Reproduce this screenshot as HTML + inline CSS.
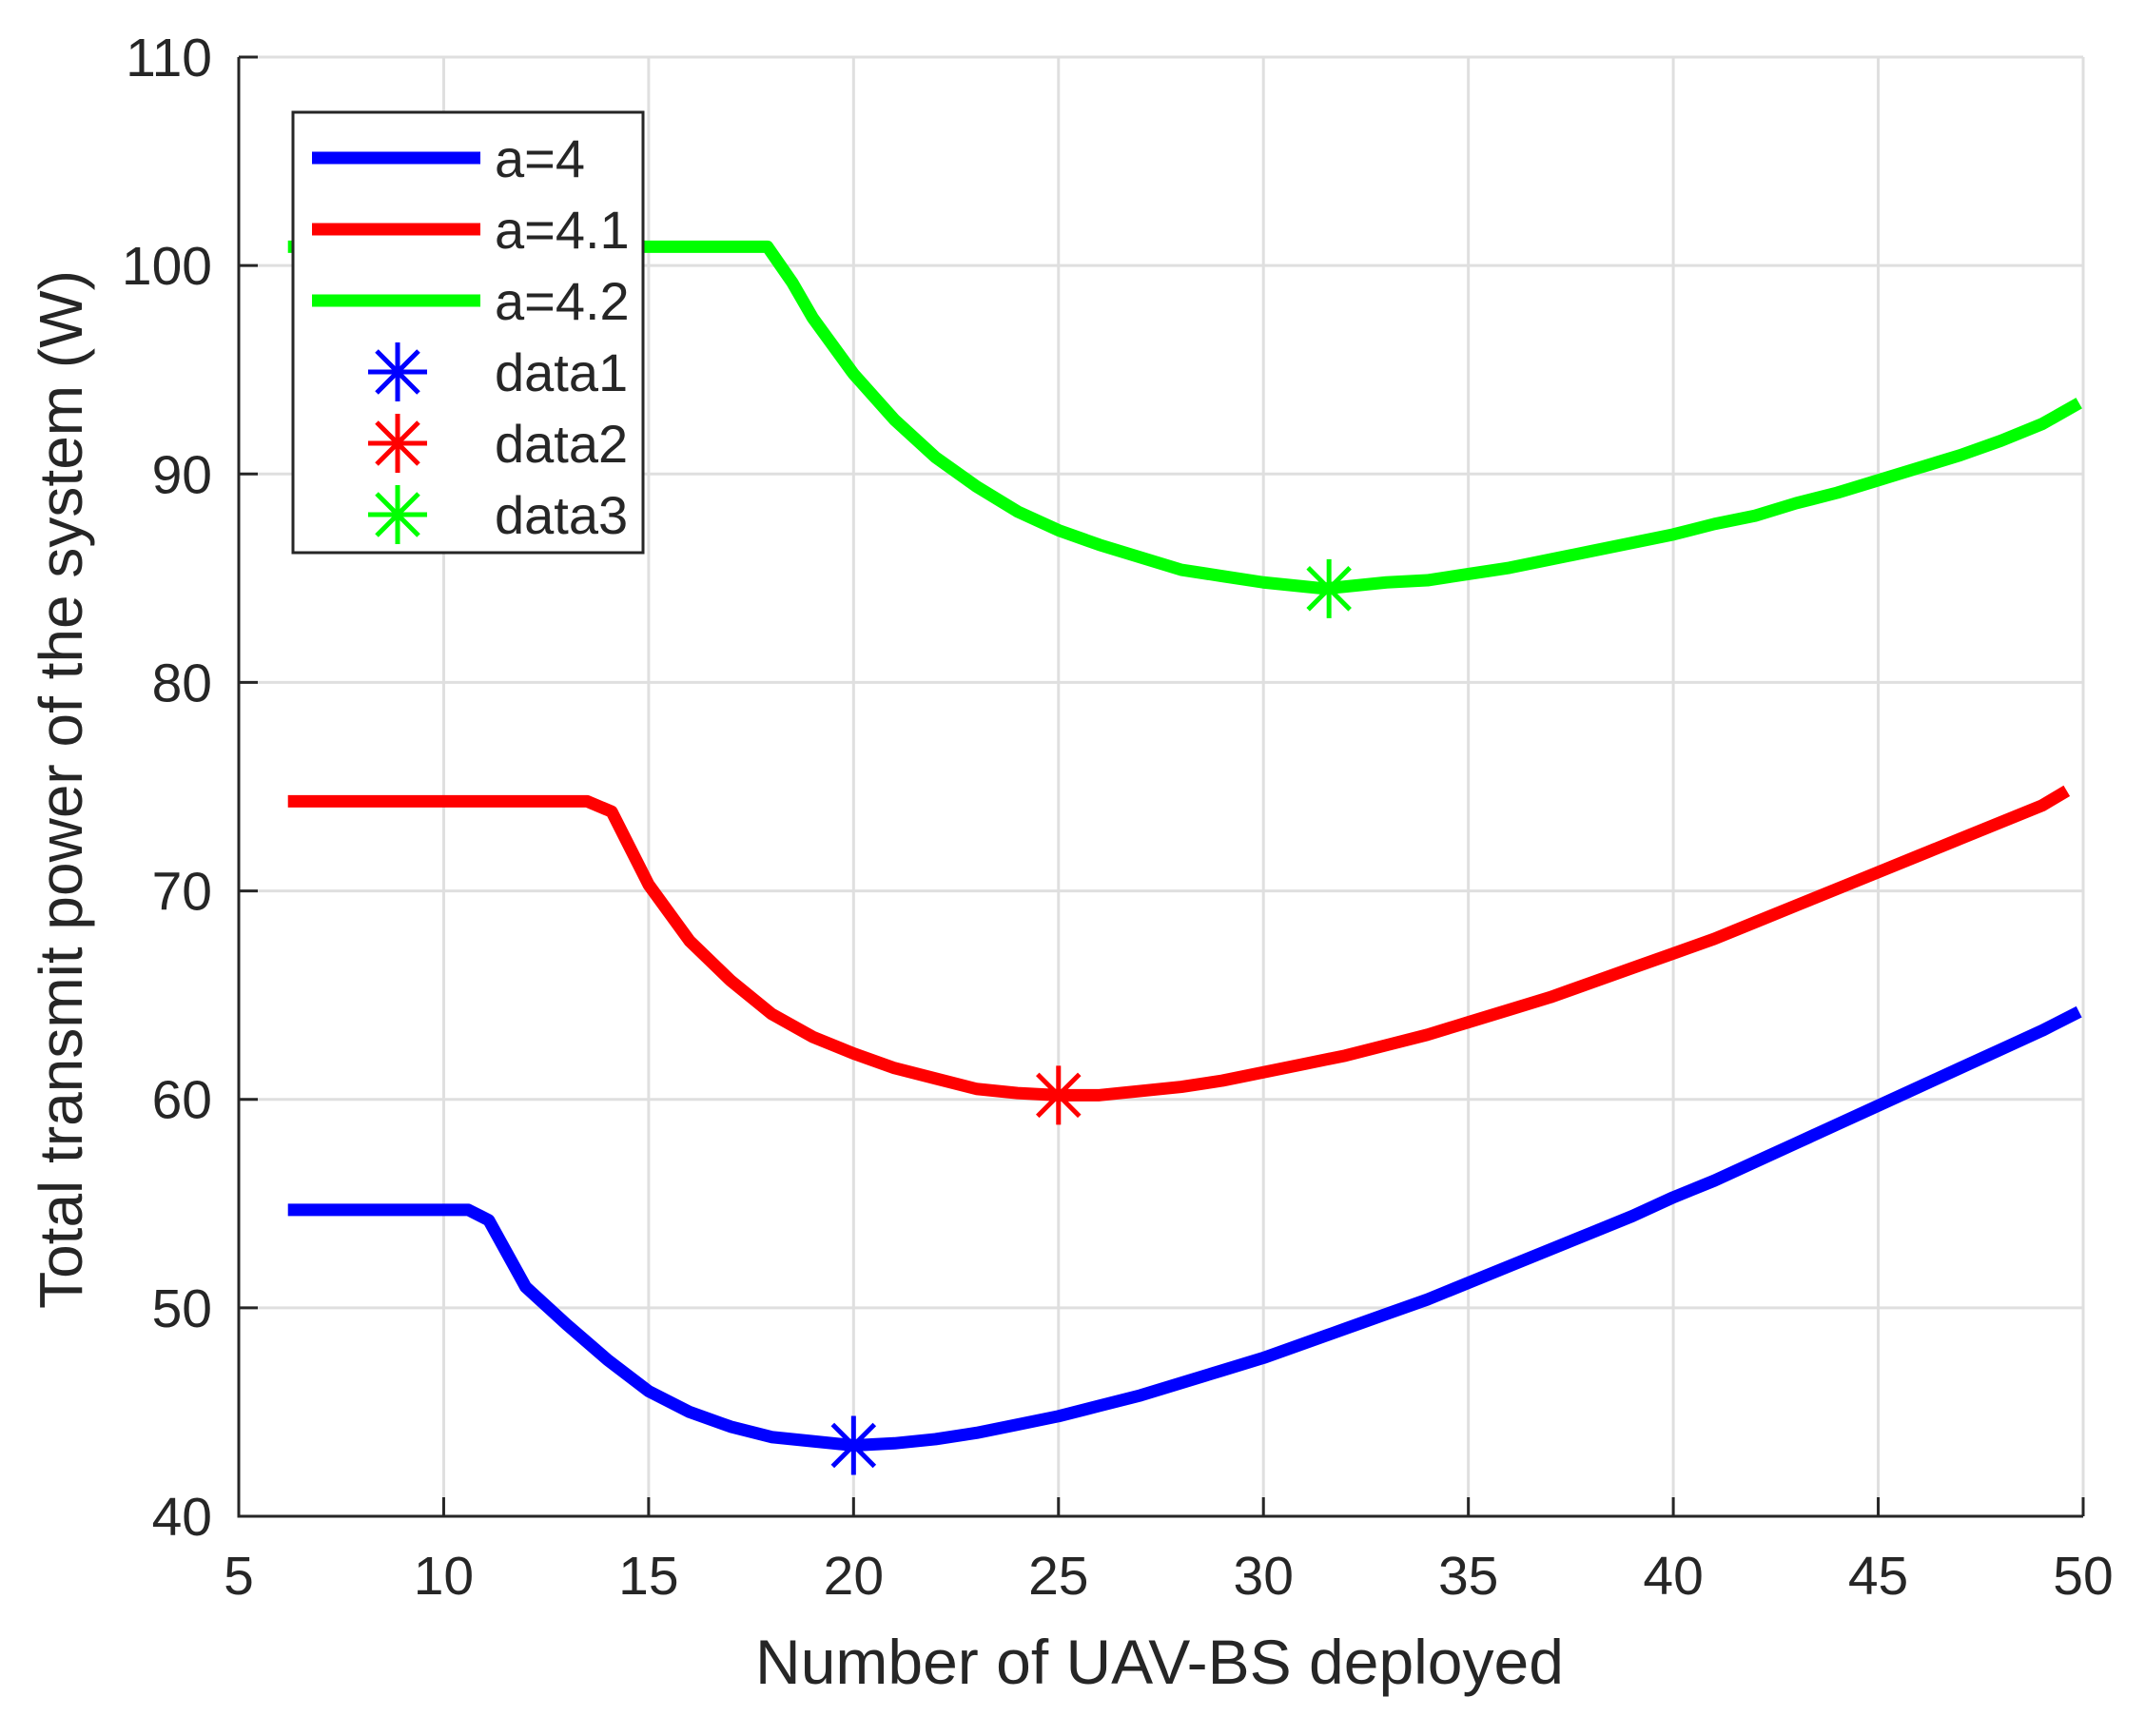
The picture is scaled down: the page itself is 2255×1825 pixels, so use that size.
<!DOCTYPE html>
<html><head><meta charset="utf-8"><style>
body{margin:0;background:#fff}
svg text{font-family:"Liberation Sans",Arial,sans-serif;fill:#262626}
</style></head><body>
<svg id="chart" width="2255" height="1820" viewBox="0 0 2255 1820" xmlns="http://www.w3.org/2000/svg">
<rect width="2255" height="1820" fill="#fff"/>
<g id="grid"></g>
<g id="series"></g>
<g id="axes"></g>
<text x="1219" y="1770" font-size="66" text-anchor="middle">Number of UAV-BS deployed</text>
<text transform="translate(86,830) rotate(-90)" font-size="64" text-anchor="middle">Total transmit power of the system (W)</text>
<g id="legend"></g>
</svg>
<script>
const xTicks=[5,10,15,20,25,30,35,40,45,50];
const yTicks=[40,50,60,70,80,90,100,110];
const blueX=[6.2,10.6,11.1,12,13,14,15,16,17,18,19,20,21,22,23,24,25,26,27,28,29,30,31,32,33,34,35,36,37,38,39,40,41,42,43,44,45,46,47,48,49,49.9];
const blueY=[54.7,54.7,54.2,51.0,49.2,47.5,46.0,45.0,44.3,43.8,43.6,43.4,43.5,43.7,44.0,44.4,44.8,45.3,45.8,46.4,47.0,47.6,48.3,49.0,49.7,50.4,51.2,52.0,52.8,53.6,54.4,55.3,56.1,57.0,57.9,58.8,59.7,60.6,61.5,62.4,63.3,64.2];
const redX=[6.2,13.5,14.1,15,16,17,18,19,20,21,22,23,24,25,26,27,28,29,30,31,32,33,34,35,36,37,38,39,40,41,42,43,44,45,46,47,48,49,49.6];
const redY=[74.3,74.3,73.8,70.3,67.6,65.7,64.1,63.0,62.2,61.5,61.0,60.5,60.3,60.2,60.2,60.4,60.6,60.9,61.3,61.7,62.1,62.6,63.1,63.7,64.3,64.9,65.6,66.3,67.0,67.7,68.5,69.3,70.1,70.9,71.7,72.5,73.3,74.1,74.8];
const greenX=[6.2,17.9,18.5,19,20,21,22,23,24,25,26,27,28,29,30,31,31.5,32,33,34,35,36,37,38,39,40,41,42,43,44,45,46,47,48,49,49.9];
const greenY=[100.9,100.9,99.2,97.5,94.8,92.6,90.8,89.4,88.2,87.3,86.6,86.0,85.4,85.1,84.8,84.6,84.5,84.6,84.8,84.9,85.2,85.5,85.9,86.3,86.7,87.1,87.6,88.0,88.6,89.1,89.7,90.3,90.9,91.6,92.4,93.4];
const markX=[20,25,31.6];
const markY=[43.4,60.2,84.5];
const colors=['#0000ff','#ff0000','#00ff00'];
const labels=['a=4','a=4.1','a=4.2','data1','data2','data3'];
const L=251,R=2190,T=60,B=1594;
const sx=v=>L+(v-5)/45*(R-L), sy=v=>B-(v-40)/70*(B-T);
const NS='http://www.w3.org/2000/svg';
function mk(tag,attrs,parent){const e=document.createElementNS(NS,tag);for(const k in attrs)e.setAttribute(k,attrs[k]);parent.appendChild(e);return e;}
const grid=document.getElementById('grid'),axes=document.getElementById('axes'),ser=document.getElementById('series'),leg=document.getElementById('legend');
xTicks.forEach(t=>{
 const g=mk('line',{x1:sx(t),x2:sx(t),y1:T,y2:B,stroke:'#dfdfdf','stroke-width':3},grid);
 
 
 const tk=mk('line',{x1:sx(t),x2:sx(t),y1:B,y2:B-20,stroke:'#262626','stroke-width':3},axes);
 
 
 const tx=mk('text',{x:sx(t),y:B+82,'font-size':57,'text-anchor':'middle'},axes);tx.textContent=t;
 
 
});
yTicks.forEach(t=>{
 const g=mk('line',{x1:L,x2:R,y1:sy(t),y2:sy(t),stroke:'#dfdfdf','stroke-width':3},grid);
 
 
 const tk=mk('line',{x1:L,x2:L+20,y1:sy(t),y2:sy(t),stroke:'#262626','stroke-width':3},axes);
 
 
 const tx=mk('text',{x:L-28,y:sy(t)+20,'font-size':57,'text-anchor':'end'},axes);tx.textContent=t;
 
 
});
const ax=mk('path',{d:`M${L},${T}V${B}H${R}`,fill:'none',stroke:'#262626','stroke-width':3},axes);


const sets=[[blueX,blueY],[redX,redY],[greenX,greenY]];
function star(cx,cy,c,parent){const r=31,d=22;
 return mk('path',{d:`M${cx-r},${cy}H${cx+r}M${cx},${cy-r}V${cy+r}M${cx-d},${cy-d}L${cx+d},${cy+d}M${cx-d},${cy+d}L${cx+d},${cy-d}`,stroke:c,'stroke-width':5,fill:'none'},parent);}
sets.forEach((s,i)=>{
 const p=mk('polyline',{points:s[0].map((x,j)=>sx(x)+','+sy(s[1][j])).join(' '),fill:'none',stroke:colors[i],'stroke-width':13,'stroke-linejoin':'round'},ser);
 
 
});
markX.forEach((x,i)=>{
 const m=star(sx(x),sy(markY[i]),colors[i],ser);
 
 
});
const lb=mk('rect',{x:308,y:118,width:368,height:463,fill:'#fff',stroke:'#262626','stroke-width':3},leg);


labels.forEach((lab,i)=>{
 const y=166+i*75;
 if(i<3){const l=mk('line',{x1:328,x2:505,y1:y,y2:y,stroke:colors[i],'stroke-width':13},leg);
  
  }
 else{const m=star(418,y,colors[i-3],leg);
  
  }
 const t=mk('text',{x:520,y:y+20,'font-size':56},leg);t.textContent=lab;
 
 
});
</script>
</body></html>
